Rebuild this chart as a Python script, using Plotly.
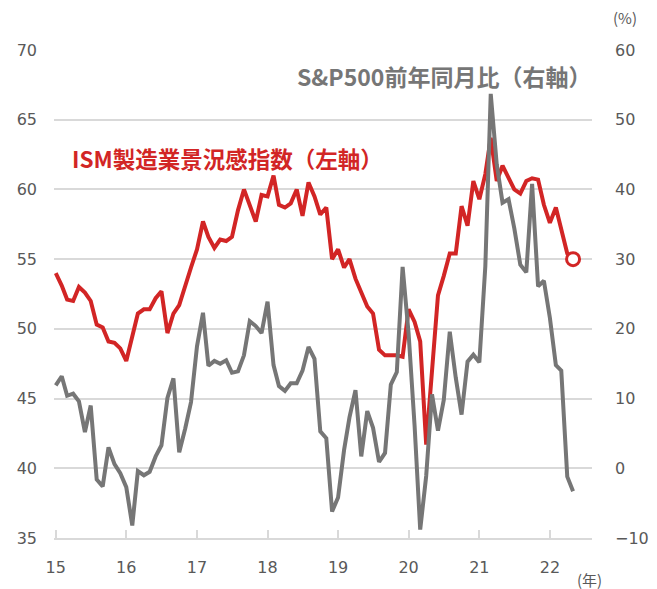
import pandas as pd
import plotly.graph_objects as go

# Monthly data, Jan 2015 - May 2022
months = pd.date_range("2015-01-01", periods=89, freq="MS")

ism = [
    54.0, 53.1, 52.1, 52.0, 53.0, 52.6, 52.0, 50.3, 50.1, 49.1, 49.0, 48.6,   # 2015
    47.7, 49.5, 51.1, 51.4, 51.4, 52.2, 52.7, 49.7, 51.1, 51.7, 53.2, 54.4,   # 2016
    55.7, 57.7, 56.6, 55.8, 56.4, 56.3, 56.6, 58.5, 60.0, 58.8, 57.7, 59.6,   # 2017
    59.5, 61.0, 58.9, 58.7, 59.0, 60.0, 58.1, 60.5, 59.5, 58.2, 58.7, 55.0,   # 2018
    55.7, 54.4, 55.0, 53.6, 52.7, 51.6, 51.1, 48.5, 48.1, 48.1, 48.1, 48.0,   # 2019
    51.4, 50.5, 49.1, 41.7, 46.9, 52.4, 53.8, 55.4, 55.4, 58.8, 57.4, 60.6,   # 2020
    59.3, 61.1, 63.7, 60.6, 61.7, 60.8, 60.0, 59.7, 60.6, 60.8, 60.7, 58.9,   # 2021
    57.6, 58.7, 57.0, 55.4, 55.0,                                             # 2022
]

sp500_yoy = [
    11.9, 13.2, 10.4, 10.7, 9.6, 5.2, 9.0, -1.6, -2.6, 3.0, 0.6, -0.7,        # 2015
    -2.7, -8.2, -0.4, -1.0, -0.5, 1.7, 3.3, 10.1, 12.9, 2.3, 5.7, 9.5,        # 2016
    17.5, 22.3, 14.7, 15.4, 15.0, 15.5, 13.7, 13.9, 16.2, 21.1, 20.4, 19.4,   # 2017
    23.9, 14.8, 11.8, 11.1, 12.2, 12.2, 14.0, 17.4, 15.7, 5.3, 4.3, -6.2,     # 2018
    -4.2, 2.6, 7.3, 11.2, 1.7, 8.2, 5.8, 0.9, 2.2, 12.0, 13.8, 28.9,          # 2019
    19.3, 6.1, -8.8, -1.1, 10.6, 5.4, 9.8, 19.6, 13.0, 7.7, 15.3, 16.3,       # 2020
    15.2, 29.0, 53.7, 43.6, 38.1, 38.6, 34.4, 29.2, 28.1, 40.8, 26.1, 26.9,   # 2021
    21.6, 14.8, 14.0, -1.2, -3.3,                                             # 2022
]

year_ticks = pd.date_range("2015-01-01", periods=8, freq="12MS")
year_labels = ["15", "16", "17", "18", "19", "20", "21", "22"]

RED = "#D22525"
GRAY = "#767676"
AXIS = "#D9D9D9"
TXT = "#595959"
NUMFONT = "DejaVu Sans"
CJK = "Noto Sans CJK JP"

fig = go.Figure()

fig.add_trace(go.Scatter(
    x=months, y=ism, mode="lines", name="ISM",
    line=dict(color=RED, width=4), yaxis="y", hoverinfo="skip",
))
fig.add_trace(go.Scatter(
    x=[months[-1]], y=[ism[-1]], mode="markers", name="ISM last",
    marker=dict(symbol="circle", size=13, color="white",
                line=dict(color=RED, width=3)),
    yaxis="y", hoverinfo="skip",
))
fig.add_trace(go.Scatter(
    x=months, y=sp500_yoy, mode="lines", name="S&P500",
    line=dict(color=GRAY, width=4), yaxis="y2", hoverinfo="skip",
))

# the page body adds an 8px offset, so the figure is 8px smaller
fig.update_layout(
    width=649, height=581,
    margin=dict(l=46, r=65, t=42, b=51, autoexpand=False),
    paper_bgcolor="white", plot_bgcolor="white",
    showlegend=False,
    xaxis=dict(
        range=["2014-12-23", "2022-08-07"],
        tickmode="array", tickvals=year_ticks, ticktext=year_labels,
        ticks="inside", ticklen=8, tickcolor=AXIS, tickwidth=1.5,
        showline=True, linecolor=AXIS, linewidth=1.5,
        showgrid=False, zeroline=False, automargin=False,
        tickfont=dict(family=NUMFONT, size=16, color=TXT),
        ticklabelstandoff=14,
    ),
    yaxis=dict(
        range=[35, 70], tickmode="linear", tick0=35, dtick=5,
        showgrid=True, gridcolor=AXIS, gridwidth=1.5,
        zeroline=False, showline=False, ticks="", automargin=False,
        tickfont=dict(family=NUMFONT, size=16, color=TXT),
        ticklabelstandoff=16,
    ),
    yaxis2=dict(
        range=[-10, 60], tickmode="linear", tick0=-10, dtick=10,
        overlaying="y", side="right", automargin=False,
        showgrid=False, zeroline=False, showline=False, ticks="",
        tickfont=dict(family=NUMFONT, size=16, color=TXT),
        ticklabelstandoff=22,
    ),
    annotations=[
        dict(text="ISM製造業景況感指数（左軸）", xref="paper", yref="paper",
             x=0.0297, y=0.7787, xanchor="left", yanchor="middle", showarrow=False,
             font=dict(family=CJK, size=22.5, color=RED, weight="bold")),
        dict(text="S&P500前年同月比（右軸）", xref="paper", yref="paper",
             x=1.001, y=0.9467, xanchor="right", yanchor="middle", showarrow=False,
             font=dict(family=CJK, size=23, color=GRAY, weight="bold")),
        dict(text="(%)", xref="paper", yref="paper",
             x=1.062, y=1.0656, xanchor="center", yanchor="middle", showarrow=False,
             font=dict(family=CJK, size=15, color=TXT)),
        dict(text="(年)", xref="paper", yref="paper",
             x=0.996, y=-0.086, xanchor="center", yanchor="middle", showarrow=False,
             font=dict(family=CJK, size=15, color=TXT)),
    ],
)

fig.write_html("out.html")
